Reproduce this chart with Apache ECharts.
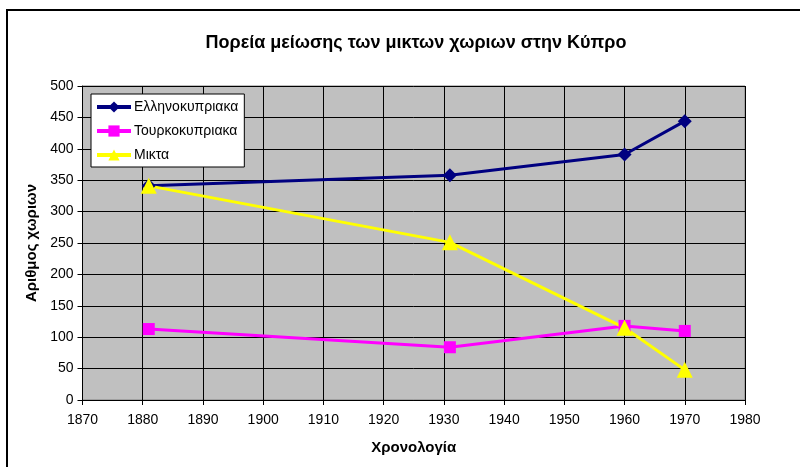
<!DOCTYPE html>
<html>
<head>
<meta charset="utf-8">
<script src="https://cdn.jsdelivr.net/npm/echarts@6/dist/echarts.min.js"></script>
<style>
html,body{margin:0;padding:0;background:#fff;}
#chart{width:800px;height:467px;}
</style>
</head>
<body>
<div id="chart"></div>
<script>
const titleText = 'Πορεία μείωσης των μικτων χωριων στην Κύπρο';
const xName = 'Χρονολογία';
const yName = 'Αριθμος χωριων';
const seriesNames = ['Ελληνοκυπριακα', 'Τουρκοκυπριακα', 'Μικτα'];
const years = [1881, 1931, 1960, 1970];
const greek = [341, 358, 391, 444];
const turkish = [113, 84, 118, 110];
const mixed = [341, 251, 115, 48];

const font = '"Liberation Sans", Arial, sans-serif';
const chart = echarts.init(document.getElementById('chart'));

function pairs(vals) { return years.map((y, i) => [y, vals[i]]); }

chart.setOption({
  animation: false,
  backgroundColor: '#fff',
  textStyle: { fontFamily: font },
  title: {
    text: titleText,
    left: 411, top: 29, textAlign: 'center',
    textStyle: { fontFamily: font, fontSize: 18, fontWeight: 'bold', color: '#000' }
  },
  graphic: [{
    type: 'rect', silent: true, z: 100,
    shape: { x: 7, y: 10, width: 800, height: 470 },
    style: { fill: 'none', stroke: '#000', lineWidth: 2 }
  }],
  legend: {
    orient: 'vertical', left: 91, top: 94,
    backgroundColor: '#fff', borderColor: '#000', borderWidth: 1,
    padding: [6, 6, 5, 4], itemGap: 10, itemWidth: 34, itemHeight: 14,
    lineStyle: { width: 4 },
    textStyle: { fontFamily: font, fontSize: 14, lineHeight: 14, color: '#000', padding: [0, 0, 0, -2] },
    data: seriesNames
  },
  grid: {
    left: 82.5, right: 55, top: 86, bottom: 67,
    show: true, backgroundColor: '#C0C0C0', borderColor: '#808080', borderWidth: 1
  },
  xAxis: {
    type: 'value', min: 1870, max: 1980, interval: 10,
    name: xName, nameLocation: 'middle', nameGap: 40,
    nameTextStyle: { fontFamily: font, fontSize: 15, fontWeight: 'bold', color: '#000' },
    axisLine: { show: true, lineStyle: { color: '#000', width: 1 } },
    axisTick: { show: true, length: 5, inside: false, lineStyle: { color: '#000' } },
    axisLabel: { fontFamily: font, fontSize: 14, color: '#000', margin: 13, formatter: v => String(v) },
    splitLine: { show: true, lineStyle: { color: '#000', width: 1 } }
  },
  yAxis: {
    type: 'value', min: 0, max: 500, interval: 50,
    name: yName, nameLocation: 'middle', nameGap: 43, nameRotate: 90,
    nameTextStyle: { fontFamily: font, fontSize: 15, fontWeight: 'bold', color: '#000' },
    axisLine: { show: true, lineStyle: { color: '#000', width: 1 } },
    axisTick: { show: true, length: 5, inside: false, lineStyle: { color: '#000' } },
    axisLabel: { fontFamily: font, fontSize: 14, color: '#000', margin: 9 },
    splitLine: { show: true, lineStyle: { color: '#000', width: 1 } }
  },
  series: [
    {
      name: seriesNames[0], type: 'line', data: pairs(greek),
      symbol: 'diamond', symbolSize: 14, showAllSymbol: true,
      lineStyle: { color: '#000080', width: 3 },
      itemStyle: { color: '#000080' }
    },
    {
      name: seriesNames[1], type: 'line', data: pairs(turkish),
      symbol: 'rect', symbolSize: 12,
      lineStyle: { color: '#FF00FF', width: 3 },
      itemStyle: { color: '#FF00FF' }
    },
    {
      name: seriesNames[2], type: 'line', data: pairs(mixed),
      symbol: 'triangle', symbolSize: 16,
      lineStyle: { color: '#FFFF00', width: 3 },
      itemStyle: { color: '#FFFF00' }
    }
  ]
});
</script>
</body>
</html>
